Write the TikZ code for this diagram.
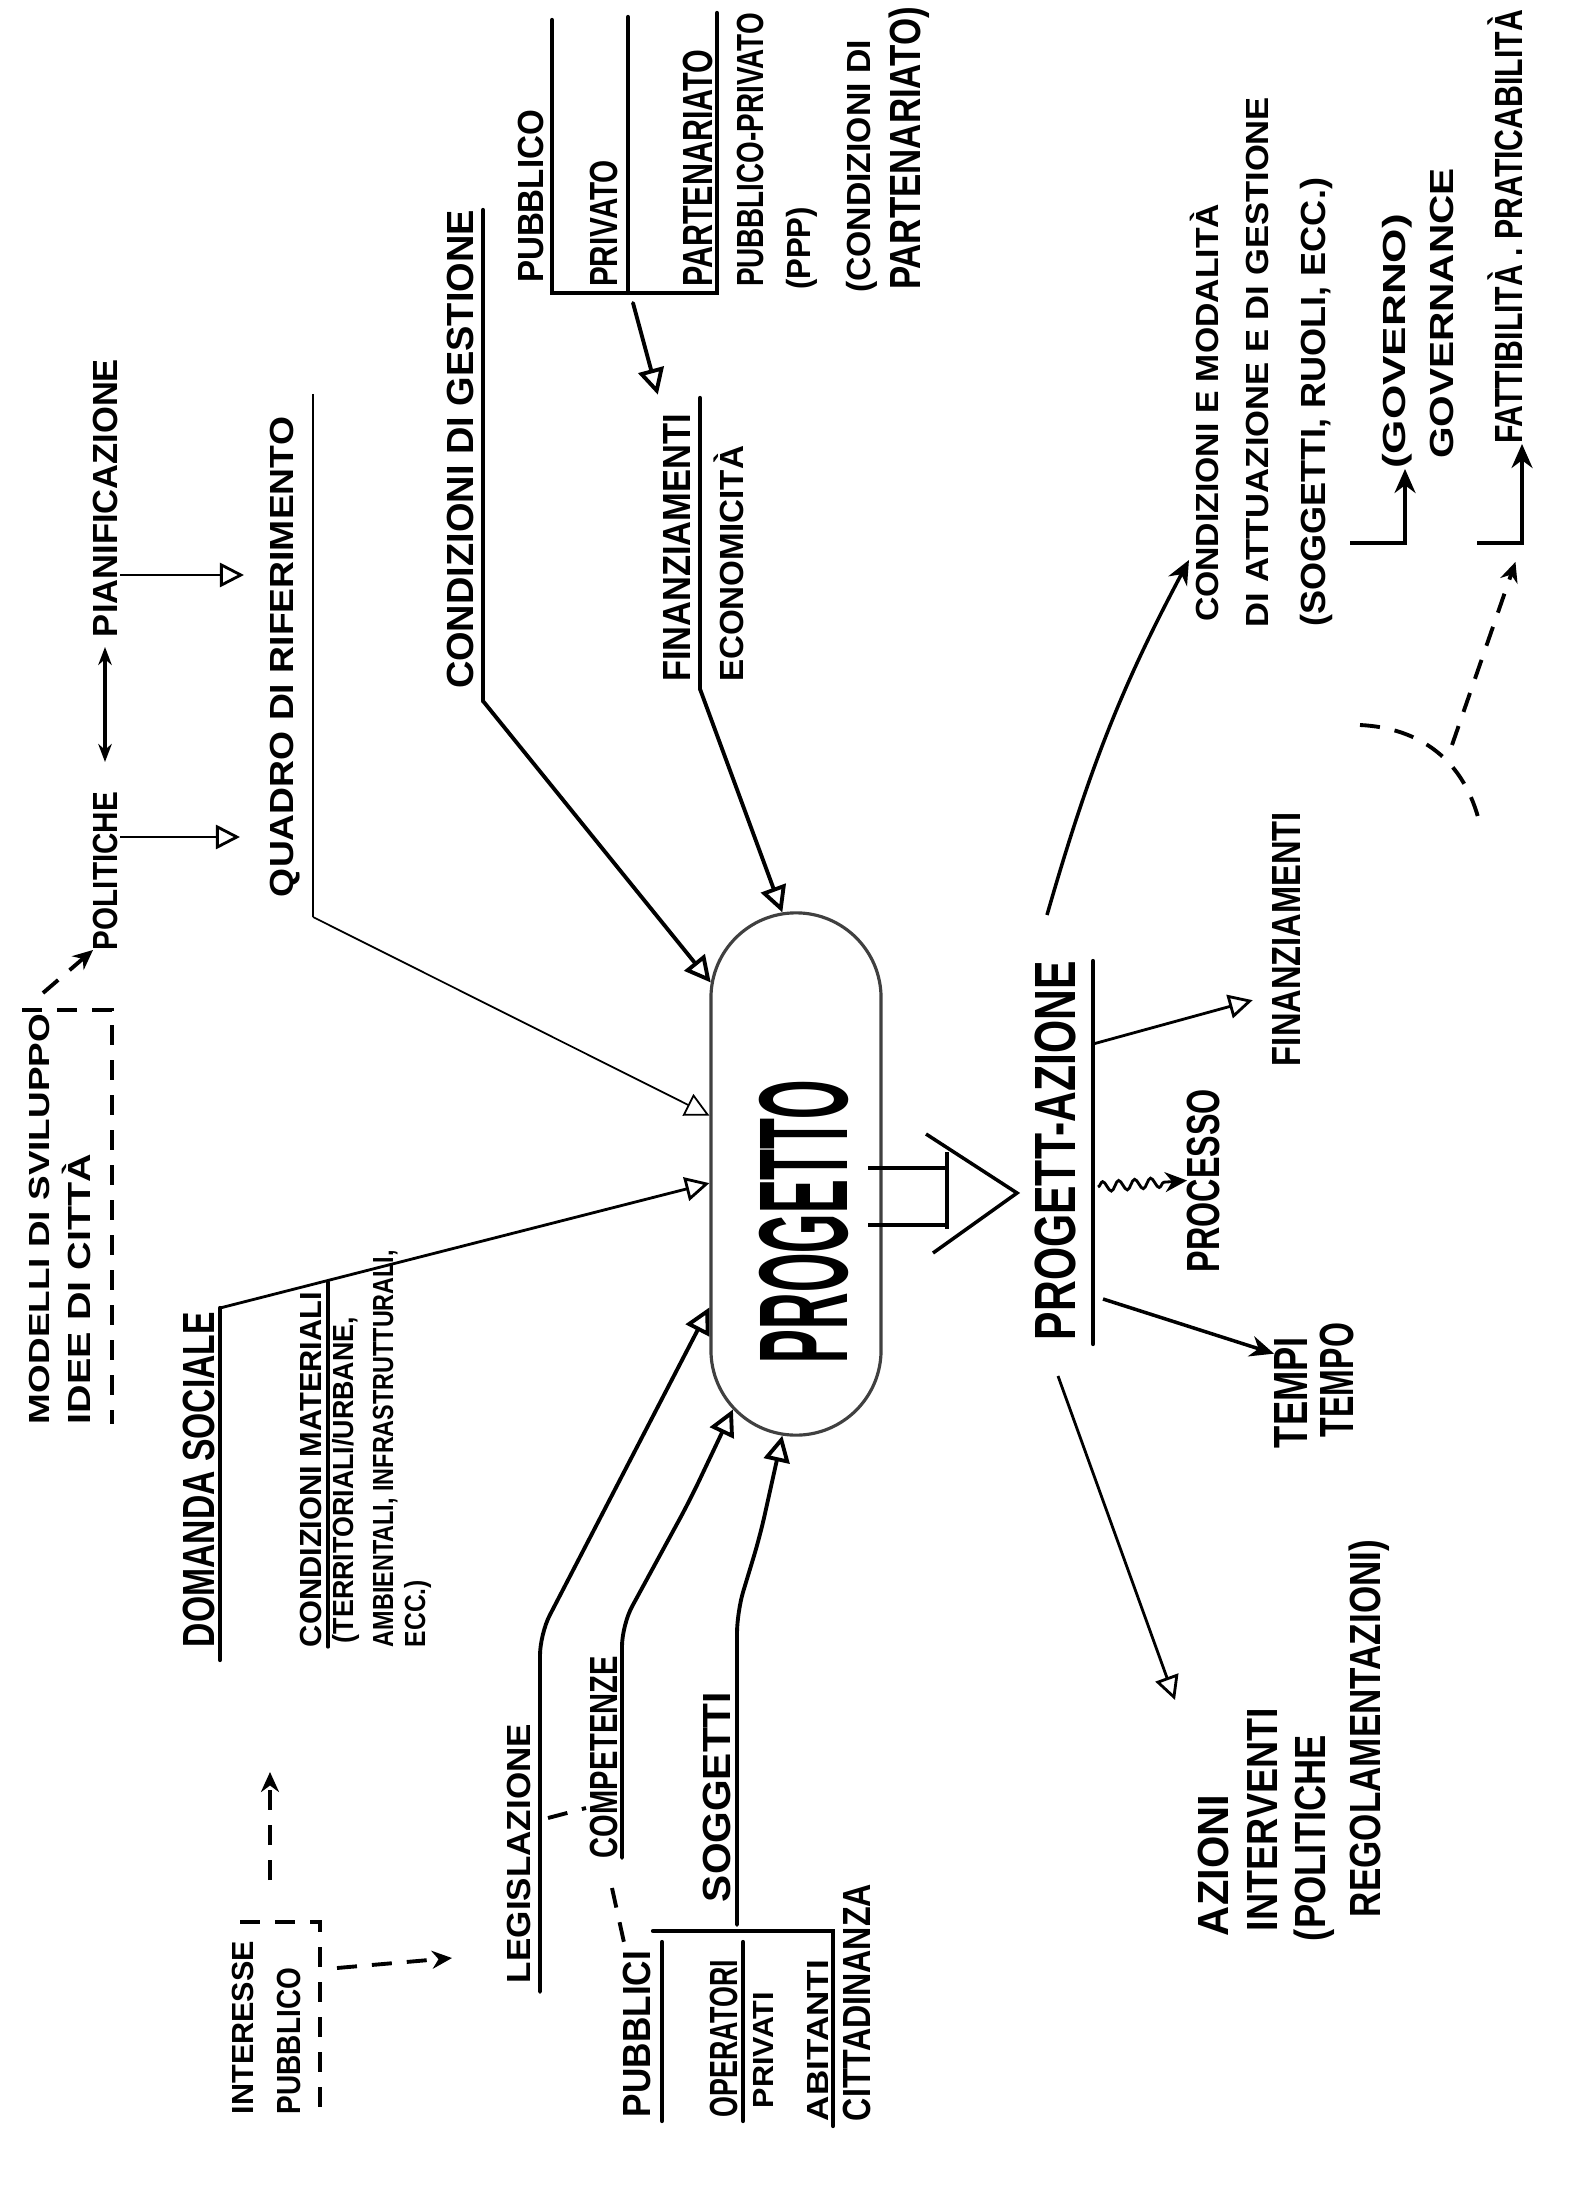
\documentclass[tikz,border=0pt]{standalone}
\usepackage{graphicx}
\usepackage{fontspec}
\setmainfont{Liberation Sans}
\usetikzlibrary{positioning}
\usetikzlibrary{arrows.meta}
\usetikzlibrary{shapes.misc}
\usetikzlibrary{calc}
\usetikzlibrary{decorations.pathmorphing}
\newlength\px
\setlength\px{0.01cm}
% text fitted to a length and a cap height (in px of the sheet)
\newcommand\hw[3]{\resizebox{#1\px}{#2\px}{\vphantom{A}\smash{#3}}}
\tikzset{
    txt/.style = {rotate=90, anchor=base west, inner sep=0pt, outer sep=0pt, font=\bfseries},
    progbox/.style = {rounded rectangle, rotate=90, draw=black!75, line width=0.9pt, minimum width=5.22cm, minimum height=1.70cm, inner sep=0pt},
    uline/.style = {line width=1.2pt, line cap=round},
    edgen/.style = {-{Triangle[open,length=2.6mm,width=2.6mm]}, line width=1.1pt, line cap=round},
    edget/.style = {-{Triangle[open,length=2.4mm,width=2.4mm]}, line width=0.5pt},
    edgef/.style = {-{Stealth[length=2.4mm,width=2.1mm]}, line width=1pt},
    edged/.style = {-{Stealth[length=2mm,width=1.8mm]}, line width=1.1pt, dash pattern=on 2mm off 1.5mm},
    edgew/.style = {-{Stealth[length=2.2mm,width=2mm]}, line width=0.8pt, decorate, decoration={snake, amplitude=0.5mm, segment length=1.6mm, post length=2.2mm}},
    dbox/.style = {line width=1.1pt, dash pattern=on 2mm off 1.5mm},
}
\begin{document}
\begin{tikzpicture}[x=0.01cm, y=-0.01cm]
\useasboundingbox (0,0) rectangle (1583,2201);
%
\node[progbox] (progetto) at (796,1174) {};
\node[txt] (progtxt) at (847,1363) {\hw{283}{87}{PROGETTO}};
\draw[line width=1pt] (868,1168) -- (947,1168) (868,1225) -- (947,1225) (947,1152) -- (947,1229);
\draw[line width=1pt] (926,1134) -- (1017,1193) -- (933,1253);
%
\node[txt] (modelli) at (50,1424) {\hw{410}{20}{MODELLI DI SVILUPPO}};
\node[txt] (idee) at (90,1424) {\hw{270}{22}{IDEE DI CITTÀ}};
\draw[dbox] (22,1010) -- (112,1010) -- (112,1424);
\node[txt] (politiche) at (117,950) {\hw{158}{24}{POLITICHE}};
\node[txt] (pianif) at (117,637) {\hw{278}{24}{PIANIFICAZIONE}};
\coordinate (mds) at (43,993);
\draw[edged] (mds) -- (politiche.north west);
\draw[{Stealth[length=1.8mm]}-{Stealth[length=1.8mm]}, line width=1pt, shorten <=3mm, shorten >=1mm] (politiche.east) -- (pianif.west);
%
\node[txt] (quadro) at (293,897) {\hw{480}{23}{QUADRO DI RIFERIMENTO}};
\coordinate (pol1) at (120,837);
\coordinate (pia1) at (120,575);
\draw[edget, line width=0.8pt, shorten >=3mm] (pol1) -- (pol1 -| quadro.north);
\draw[edget, line width=0.8pt, shorten >=2.6mm] (pia1) -- (pia1 -| quadro.north);
\coordinate (qd1) at (313,394);
\coordinate (qd2) at (313,917);
\draw[line width=0.7pt] (qd1) -- (qd2);
\draw[edget] (qd2) -- (progetto.56);
%
\node[txt] (gestione) at (473,689) {\hw{479}{26}{CONDIZIONI DI GESTIONE}};
\draw[uline] (483,210) -- (483,701);
\draw[edgen] (483,701) -- (progetto.24);
%
\node[txt] (pubblico) at (543,283) {\hw{173}{25}{PUBBLICO}};
\node[txt] (privato) at (617,287) {\hw{127}{27}{PRIVATO}};
\node[txt] (partenariato) at (712,287) {\hw{237}{29}{PARTENARIATO}};
\draw[uline] (552,20) -- (552,293) -- (717,293) -- (717,13);
\draw[uline] (628,17) -- (628,293);
\node[txt] (pubpriv) at (763,287) {\hw{274}{26}{PUBBLICO-PRIVATO}};
\node[txt] (ppp) at (810,290) {\hw{83}{23}{(PPP)}};
\node[txt] (condpart) at (870,293) {\hw{253}{23}{(CONDIZIONI DI}};
\node[txt] (partpar) at (920,290) {\hw{283}{30}{PARTENARIATO)}};
%
\node[txt] (finanz) at (690,682) {\hw{268}{27}{FINANZIAMENTI}};
\node[txt] (econ) at (743,682) {\hw{236}{23}{ECONOMICITÀ}};
\coordinate (pb) at (633,303);
\draw[edgen, shorten >=2mm] (pb) -- (finanz.north east);
\draw[uline] (700,398) -- (700,689);
\draw[edgen] (700,689) -- (progetto.3);
%
\node[txt] (domanda) at (214,1647) {\hw{335}{31}{DOMANDA SOCIALE}};
\coordinate (ds1) at (220,1660);
\coordinate (ds2) at (220,1308);
\draw[uline] (ds1) -- (ds2);
\draw[edget, line width=0.8pt] (ds2) -- (progetto.96);
\node[txt] (condmat) at (321,1647) {\hw{355}{21}{CONDIZIONI MATERIALI}};
\draw[uline, line width=0.9pt] (328,1647) -- (328,1282);
\node[txt] (territ) at (353,1643) {\hw{326}{20}{(TERRITORIALI/URBANE,}};
\node[txt] (ambient) at (393,1647) {\hw{397}{20}{AMBIENTALI, INFRASTRUTTURALI,}};
\node[txt] (ecc) at (425,1647) {\hw{67}{20}{ECC.)}};
%
\node[txt] (interesse) at (253,2114) {\hw{173}{21}{INTERESSE}};
\node[txt] (pubblico2) at (300,2114) {\hw{146}{23}{PUBBLICO}};
\draw[dbox] (240,1922) -- (320,1922) -- (320,2114);
\coordinate (ip1) at (270,1880);
\coordinate (ip2) at (270,1772);
\coordinate (ip3) at (337,1968);
\coordinate (ip4) at (452,1958);
\draw[edged] (ip1) -- (ip2);
\draw[edged] (ip3) -- (ip4);
%
\node[txt] (legis) at (530,1983) {\hw{259}{23}{LEGISLAZIONE}};
\draw[edgen, rounded corners=6pt] (540,1992) -- (540,1634) -- (progetto.147);
\node[txt] (compet) at (617,1858) {\hw{202}{27}{COMPETENZE}};
\draw[edgen, rounded corners=6pt] (622,1858) -- (622,1625) -- (690,1500) -- (progetto.165);
\node[txt] (sogg) at (730,1902) {\hw{210}{27}{SOGGETTI}};
\draw[edgen, rounded corners=6pt] (737,1925) -- (737,1612) -- (760,1536) -- (progetto.177);
\draw[dbox] (548,1818) -- (586,1808);
\draw[dbox] (612,1888) -- (625,1947);
%
\node[txt] (pubblici) at (650,2117) {\hw{166}{27}{PUBBLICI}};
\node[txt] (operatori) at (737,2117) {\hw{157}{27}{OPERATORI}};
\node[txt] (privati) at (773,2108) {\hw{116}{20}{PRIVATI}};
\node[txt] (abitanti) at (828,2121) {\hw{161}{21}{ABITANTI}};
\node[txt] (cittad) at (870,2121) {\hw{237}{27}{CITTADINANZA}};
\draw[uline] (653,1931) -- (833,1931) -- (833,2126);
\draw[uline] (662,1942) -- (662,2121);
\draw[uline] (743,1942) -- (743,2121);
%
\node[txt] (progaz) at (1075,1340) {\hw{379}{40}{PROGETT-AZIONE}};
\draw[uline] (1093,961) -- (1093,1344);
\node[txt] (finr) at (1300,1066) {\hw{254}{28}{FINANZIAMENTI}};
\node[txt] (processo) at (1219,1272) {\hw{183}{32}{PROCESSO}};
\node[txt] (tempi) at (1307,1448) {\hw{111}{33}{TEMPI}};
\node[txt] (tempo) at (1353,1437) {\hw{114}{33}{TEMPO}};
\coordinate (paf) at (1093,1044);
\coordinate (pap) at (1098,1187);
\coordinate (pat) at (1103,1299);
\coordinate (pac) at (1047,915);
\coordinate (paz) at (1058,1376);
\draw[edget, line width=0.8pt, shorten >=2mm] (paf) -- ($(finr.north west)!0.28!(finr.north east)$);
\draw[edgew] (pap) -- (processo.north);
\draw[edgef] (pat) -- ($(tempi.north)!0.7!(tempi.north east)$);
%
\node[txt] (condmod) at (1218,622) {\hw{418}{22}{CONDIZIONI E MODALITÀ}};
\node[txt] (attuaz) at (1268,627) {\hw{530}{22}{DI ATTUAZIONE E DI GESTIONE}};
\node[txt] (ruoli) at (1325,627) {\hw{449}{24}{(SOGGETTI, RUOLI, ECC.)}};
\draw[edgef, shorten >=1.5mm] (pac) to[bend left=6] ($(condmod.north west)!0.18!(condmod.north east)$);
\node[txt] (governo) at (1405,469) {\hw{255}{22}{(GOVERNO)}};
\node[txt] (governance) at (1453,459) {\hw{291}{23}{GOVERNANCE}};
\node[txt] (fattib) at (1522,444) {\hw{434}{27}{FATTIBILITÀ . PRATICABILITÀ}};
\draw[edgef] (1350,543) -| (governo.south west);
\coordinate (fc) at (1522,543);
\draw[edgef] (1477,543) -| (fattib.south west);
\draw[dbox] (1360,725) .. controls (1420,728) and (1465,760) .. (1480,825);
\draw[edged, shorten >=2mm] (1452,745) -- (fc);
%
\node[txt] (azioni) at (1228,1936) {\hw{141}{30}{AZIONI}};
\node[txt] (interv) at (1277,1931) {\hw{223}{30}{INTERVENTI}};
\node[txt] (polit2) at (1325,1941) {\hw{206}{30}{(POLITICHE}};
\node[txt] (regol) at (1380,1917) {\hw{377}{30}{REGOLAMENTAZIONI)}};
\coordinate (azt) at (1175,1700);
\draw[edget, line width=0.8pt] (paz) -- (azt);

\end{tikzpicture}
\end{document}
